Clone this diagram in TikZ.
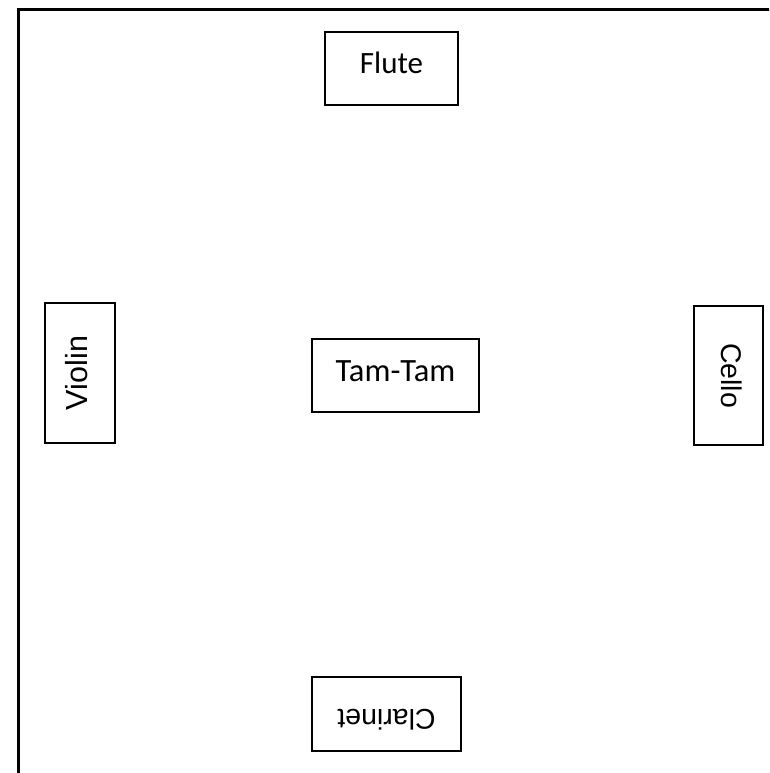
\documentclass[tikz,border=0pt]{standalone}
\usepackage{fontspec}
\setmainfont{Liberation Sans}
\newfontfamily\calfont{Carlito}
\begin{document}
\begin{tikzpicture}[x=1pt,y=-1pt,
  box/.style={draw, line width=1.3pt, inner sep=0pt, anchor=center, align=center},
  calbox/.style={box, font=\calfont\fontsize{31}{37}\selectfont},
  arbox/.style={box, font=\fontsize{28.5}{34}\selectfont},
  frame/.style={line width=2.7pt}]
\useasboundingbox (0,0) rectangle (769,773);
\clip (0,0) rectangle (769,773);
\draw[frame] (18.7,9.7) rectangle (800,800);
\node[calbox, minimum width=133pt, minimum height=73pt, text depth=12pt] (flute) at (391.5,68.5) {Flute};
\node[calbox, font=\calfont\fontsize{32.5}{38}\selectfont, minimum width=167pt, minimum height=73pt, text depth=9pt] (tamtam) at (395.5,375.5) {Tam-Tam};
\node[arbox, font=\fontsize{30.5}{36}\selectfont, minimum width=140pt, minimum height=70pt, rotate=90, text depth=6.6pt] (violin) at (80,373) {Violin};
\node[arbox, minimum width=139pt, minimum height=69pt, rotate=-90, text depth=6pt] (cello) at (728.5,375.5) {Cello};
\node[arbox, minimum width=149pt, minimum height=74pt, rotate=180, text depth=12pt] (clarinet) at (386.5,714) {Clarinet};
\end{tikzpicture}
\end{document}
